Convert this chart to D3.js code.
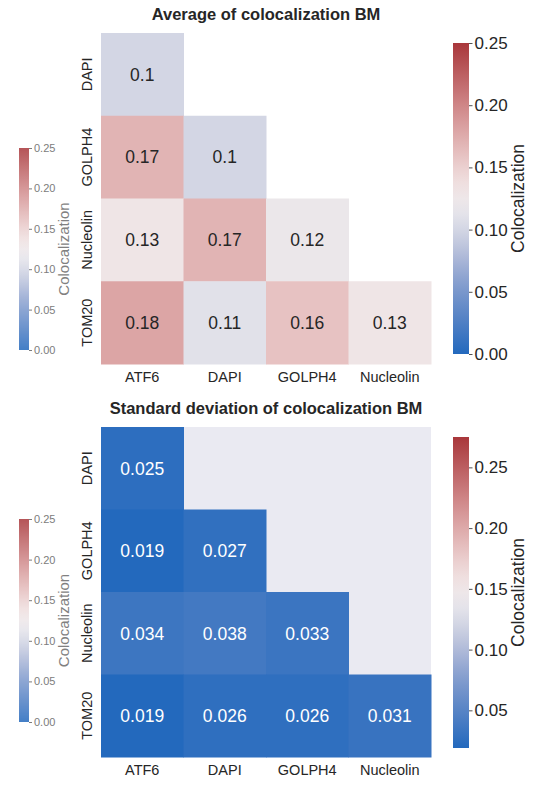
<!DOCTYPE html>
<html>
<head>
<meta charset="utf-8">
<script src="https://cdn.jsdelivr.net/npm/d3@7"></script>
<style>
  body { margin: 0; background: #fff; }
  text { font-family: 'Liberation Sans', Arial, sans-serif; }
</style>
</head>
<body>
<div id="chart"></div>
<script>
const width = 536,
      height = 785;

const rows = ['DAPI', 'GOLPH4', 'Nucleolin', 'TOM20'];
const cols = ['ATF6', 'DAPI', 'GOLPH4', 'Nucleolin'];

// lower triangle only, row by row
const meanValues = [
  [0.1],
  [0.17, 0.1],
  [0.13, 0.17, 0.12],
  [0.18, 0.11, 0.16, 0.13]
];
const sdValues = [
  [0.025],
  [0.019, 0.027],
  [0.034, 0.038, 0.033],
  [0.019, 0.026, 0.026, 0.031]
];

const meanDomain = [0, 0.25],
      sdDomain = [0.019, 0.275];
const meanTicks = [0, 0.05, 0.10, 0.15, 0.20, 0.25],
      sdTicks = [0.05, 0.10, 0.15, 0.20, 0.25],
      smallTicks = [0, 0.05, 0.10, 0.15, 0.20, 0.25];

const titles = ['Average of colocalization BM', 'Standard deviation of colocalization BM'];
const cbarLabel = 'Colocalization';

// vlag-like diverging map
const vlag = d3.interpolateRgbBasis(['#2369bd', '#4f7fc4', '#7896cc', '#a8b4d6', '#d6d8e4',
                                     '#f4f1f1', '#ecd0d0', '#dfadad', '#cf8687', '#bc5f61', '#a9373b']);

const svg = d3.select('#chart')
              .append('svg')
              .attr('width', width)
              .attr('height', height);

const defs = svg.append('defs');
const grad = defs.append('linearGradient')
                 .attr('id', 'cbar')
                 .attr('x1', 0).attr('y1', 1)
                 .attr('x2', 0).attr('y2', 0);
d3.range(0, 1.0001, 0.05).forEach(function(t) {
  grad.append('stop').attr('offset', t).attr('stop-color', vlag(t));
});

function luminance(c) {
  const rgb = d3.rgb(c);
  const f = function(v) {
    v = v / 255;
    return v <= 0.03928 ? v / 12.92 : Math.pow((v + 0.055) / 1.055, 2.4);
  };
  return 0.2126 * f(rgb.r) + 0.7152 * f(rgb.g) + 0.0722 * f(rgb.b);
}

function heatmap(values, domain, top, bottom, title, ticks, cbarTop, cbarBottom, smallTop, smallBottom, faceColor) {
  const x = d3.scaleBand().domain(cols).range([101, 431]);
  const y = d3.scaleBand().domain(rows).range([top, bottom]);
  const color = d3.scaleSequential(vlag).domain(domain);
  const g = svg.append('g');

  if (faceColor) {
    g.append('rect')
     .attr('x', 101).attr('y', top)
     .attr('width', 330).attr('height', bottom - top)
     .attr('fill', faceColor);
  }

  const cells = [];
  values.forEach(function(row, i) {
    row.forEach(function(v, j) {
      cells.push({ row: rows[i], col: cols[j], value: v });
    });
  });

  g.selectAll('rect.cell')
   .data(cells)
   .enter()
   .append('rect')
   .attr('class', 'cell')
   .attr('x', d => x(d.col))
   .attr('y', d => y(d.row))
   .attr('width', x.bandwidth() + 0.5)
   .attr('height', y.bandwidth() + 0.5)
   .attr('fill', d => color(d.value));

  g.selectAll('text.annot')
   .data(cells)
   .enter()
   .append('text')
   .attr('class', 'annot')
   .attr('x', d => x(d.col) + x.bandwidth() / 2)
   .attr('y', d => y(d.row) + y.bandwidth() / 2)
   .attr('dy', '0.36em')
   .attr('text-anchor', 'middle')
   .attr('font-size', 17.5)
   .attr('fill', d => luminance(color(d.value)) > 0.408 ? '#262626' : '#ffffff')
   .text(d => d3.format('.2~g')(d.value));

  g.append('text')
   .attr('x', 266)
   .attr('y', top - 13)
   .attr('text-anchor', 'middle')
   .attr('font-size', 16.5)
   .attr('font-weight', 'bold')
   .attr('fill', '#262626')
   .text(title);

  const xAxis = g.append('g')
                 .attr('transform', 'translate(0,' + bottom + ')')
                 .call(d3.axisBottom(x).tickSize(0).tickPadding(8));
  xAxis.select('.domain').remove();
  xAxis.selectAll('text')
       .attr('font-size', 14.5)
       .attr('fill', '#262626');

  const yAxis = g.append('g')
                 .attr('transform', 'translate(101,0)')
                 .call(d3.axisLeft(y).tickSize(0).tickPadding(9));
  yAxis.select('.domain').remove();
  yAxis.selectAll('text')
       .attr('font-size', 14.5)
       .attr('fill', '#262626')
       .attr('text-anchor', 'middle')
       .attr('transform', 'rotate(-90)')
       .attr('x', 0)
       .attr('y', -9)
       .attr('dy', 0);
  yAxis.selectAll('.tick')
       .attr('transform', d => 'translate(0,' + (y(d) + y.bandwidth() / 2) + ')');

  // main colorbar
  const cy = d3.scaleLinear().domain(domain).range([cbarBottom, cbarTop]);
  g.append('rect')
   .attr('x', 453).attr('y', cbarTop)
   .attr('width', 16).attr('height', cbarBottom - cbarTop)
   .attr('fill', 'url(#cbar)');
  const cAxis = g.append('g')
                 .attr('transform', 'translate(469,0)')
                 .call(d3.axisRight(cy).tickValues(ticks).tickFormat(d3.format('.2f')).tickSize(3.5).tickPadding(2));
  cAxis.select('.domain').remove();
  cAxis.selectAll('line').attr('stroke', '#262626').attr('stroke-width', 0.8);
  cAxis.selectAll('text').attr('font-size', 17).attr('fill', '#262626');
  g.append('text')
   .attr('transform', 'translate(524,' + (cbarTop + cbarBottom) / 2 + ') rotate(-90)')
   .attr('text-anchor', 'middle')
   .attr('font-size', 17.5)
   .attr('fill', '#262626')
   .text(cbarLabel);

  // faded small colorbar on the left
  const sy = d3.scaleLinear().domain([0, 0.25]).range([smallBottom, smallTop]);
  const small = g.append('g').attr('opacity', 0.85);
  small.append('rect')
       .attr('x', 19).attr('y', smallTop)
       .attr('width', 10).attr('height', smallBottom - smallTop)
       .attr('fill', 'url(#cbar)');
  const sAxis = small.append('g')
                     .attr('transform', 'translate(29,0)')
                     .call(d3.axisRight(sy).tickValues(smallTicks).tickFormat(d3.format('.2f')).tickSize(3).tickPadding(2));
  sAxis.select('.domain').remove();
  sAxis.selectAll('line').attr('stroke', '#666');
  sAxis.selectAll('text').attr('font-size', 11).attr('fill', '#666');
  small.append('text')
       .attr('transform', 'translate(69,' + (smallTop + smallBottom) / 2 + ') rotate(-90)')
       .attr('text-anchor', 'middle')
       .attr('font-size', 15)
       .attr('fill', '#6a6a6a')
       .text(cbarLabel);
}

heatmap(meanValues, meanDomain, 33, 364, titles[0], meanTicks, 43, 354, 148, 350, null);
heatmap(sdValues, sdDomain, 427, 757, titles[1], sdTicks, 437, 748, 519, 722, '#eaeaf2');
</script>
</body>
</html>
